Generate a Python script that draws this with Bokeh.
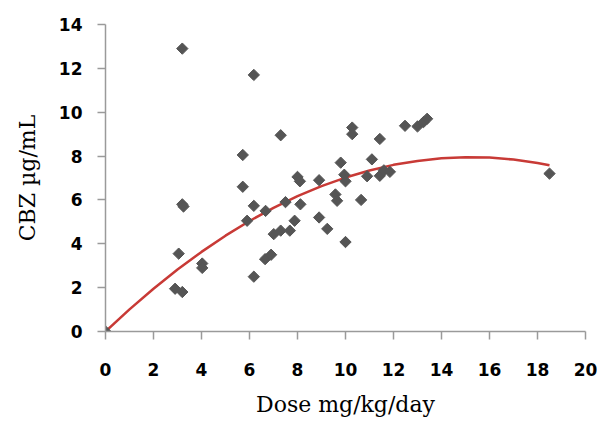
import numpy as np
from bokeh.plotting import figure
from bokeh.models import Range1d, FixedTicker
from bokeh.embed import file_html
from bokeh.resources import INLINE

# scatter data: dose (mg/kg/day) vs CBZ (ug/mL)
dose = [0, 2.9, 3.2, 3.05, 3.2, 3.25, 3.2, 4.03, 4.03, 5.72, 5.72, 5.9, 6.18, 6.18, 6.18,
        6.67, 6.65, 6.9, 7.01, 7.3, 7.3, 7.5, 7.68, 7.88, 8.0, 8.1, 8.12, 8.9, 8.9, 9.24,
        9.58, 9.65, 9.8, 9.95, 10.0, 10.0, 10.28, 10.28, 10.65, 10.9, 11.1, 11.43, 11.43,
        11.6, 11.85, 12.48, 13.0, 13.25, 13.4, 18.5]
cbz = [0, 1.95, 1.8, 3.55, 5.8, 5.7, 12.9, 3.1, 2.9, 8.05, 6.6, 5.05, 5.73, 2.5, 11.7,
       5.5, 3.3, 3.5, 4.44, 4.6, 8.95, 5.9, 4.6, 5.05, 7.05, 6.85, 5.8, 6.9, 5.2, 4.68,
       6.25, 5.96, 7.7, 7.15, 6.85, 4.08, 9.3, 9.0, 6.0, 7.08, 7.85, 8.78, 7.1,
       7.35, 7.28, 9.38, 9.35, 9.55, 9.7, 7.2]

# trend curve
trend_x = [0, 1, 2, 3, 4, 5, 6, 7, 8, 9, 10, 11, 12, 13, 14, 15, 16, 17, 18, 18.5]
trend_y = [0, 1.01, 1.95, 2.83, 3.63, 4.37, 5.04, 5.64, 6.17, 6.63, 7.02, 7.34, 7.6,
           7.78, 7.9, 7.95, 7.93, 7.84, 7.68, 7.58]

x_ticks = [0, 2, 4, 6, 8, 10, 12, 14, 16, 18, 20]
y_ticks = [0, 2, 4, 6, 8, 10, 12, 14]

p = figure(width=597, height=425, output_backend="svg", toolbar_location=None,
           x_range=Range1d(0, 20), y_range=Range1d(0, 14),
           min_border_left=105, min_border_right=12, min_border_top=24, min_border_bottom=94)
p.outline_line_color = None
p.xgrid.visible = False
p.ygrid.visible = False
p.background_fill_color = "white"

p.line(trend_x, trend_y, line_color="#c83a36", line_width=2.5)
p.scatter(dose, cbz, marker="square", angle=np.pi / 4, size=8,
          fill_color="#555555", line_color="#555555")

for ax in (p.xaxis[0], p.yaxis[0]):
    ax.axis_line_color = "#9a9a9a"
    ax.axis_line_width = 1.5
    ax.major_tick_line_color = "#9a9a9a"
    ax.major_tick_line_width = 1.5
    ax.major_tick_out = 8
    ax.major_tick_in = 0
    ax.minor_tick_out = 0
    ax.minor_tick_in = 0
    ax.major_label_text_font = "DejaVu Sans"
    ax.major_label_text_font_style = "bold"
    ax.major_label_text_font_size = "17px"
    ax.major_label_text_color = "black"
    ax.axis_label_text_font = "DejaVu Serif"
    ax.axis_label_text_font_style = "normal"
    ax.axis_label_text_font_size = "22px"
    ax.axis_label_text_color = "black"

p.xaxis.ticker = FixedTicker(ticks=x_ticks)
p.yaxis.ticker = FixedTicker(ticks=y_ticks)
p.xaxis.axis_label = "Dose mg/kg/day"
p.yaxis.axis_label = "CBZ µg/mL"
p.xaxis.major_label_standoff = 23
p.yaxis.major_label_standoff = 15
p.xaxis.axis_label_standoff = 13
p.yaxis.axis_label_standoff = 16

open("out.html", "w").write(file_html(p, INLINE))
